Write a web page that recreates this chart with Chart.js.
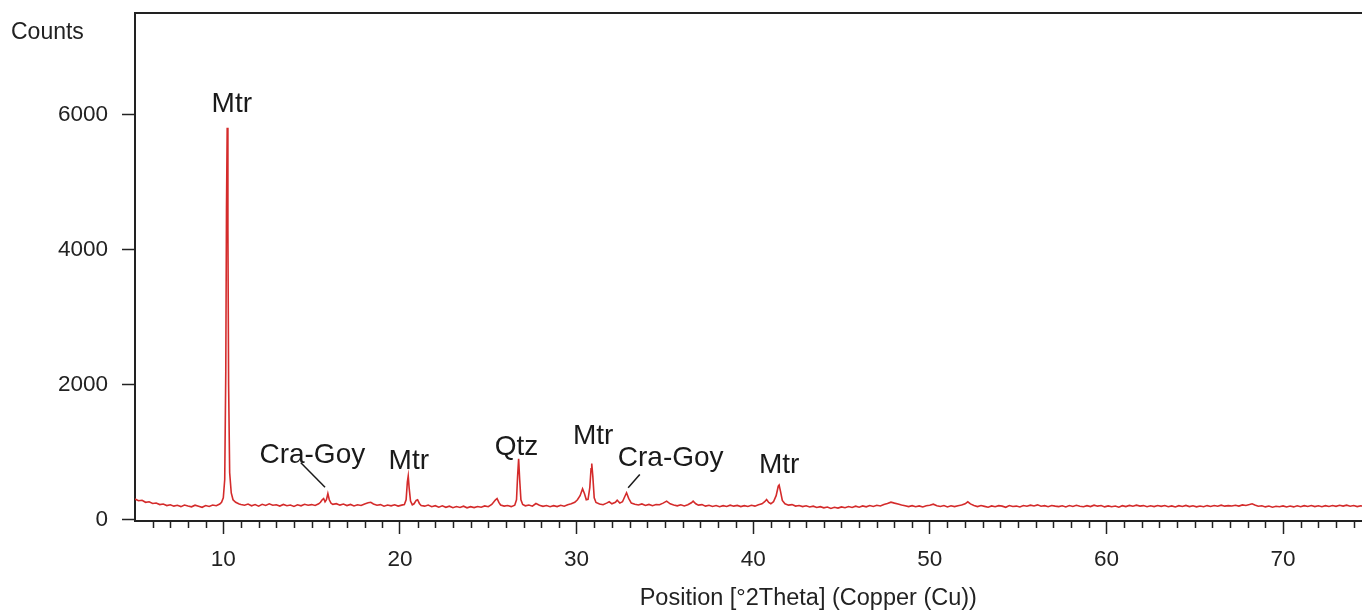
<!DOCTYPE html>
<html>
<head>
<meta charset="utf-8">
<script src="https://cdn.jsdelivr.net/npm/chart.js@4.4.1/dist/chart.umd.min.js"></script>
<style>
  html, body { margin: 0; padding: 0; background: #ffffff; }
  canvas { display: block; }
</style>
</head>
<body>
<canvas id="c" width="1362" height="610"></canvas>
<script>
// ---- Data ----
const twoTheta = [
  5.0,5.2,5.4,5.6,5.8,6.0,6.2,6.4,6.6,6.8,7.0,7.2,7.4,7.6,7.8,8.0,8.2,8.4,8.6,8.8,9.0,9.2,9.4,9.6,9.8,
  9.9,10.0,10.08,10.14,10.18,10.22,10.26,10.3,10.36,10.45,10.55,10.7,10.9,
  11.0,11.2,11.4,11.6,11.8,12.0,12.2,12.4,12.6,12.8,13.0,13.2,13.4,13.6,13.8,14.0,14.2,14.4,14.6,14.8,15.0,15.2,15.4,
  15.5,15.6,15.68,15.76,15.84,15.92,16.0,16.1,
  16.2,16.4,16.6,16.8,17.0,17.2,17.4,17.6,17.8,18.0,18.2,18.35,18.5,18.7,18.9,19.1,19.3,19.5,19.7,19.9,20.1,
  20.25,20.35,20.42,20.47,20.52,20.6,20.7,20.8,20.92,21.0,21.1,
  21.2,21.4,21.6,21.8,22.0,22.2,22.4,22.6,22.8,23.0,23.2,23.4,23.6,23.8,24.0,24.2,24.4,24.6,24.8,25.0,25.2,
  25.4,25.5,25.6,25.7,25.9,26.1,26.3,26.5,26.6,26.66,26.72,26.78,26.85,26.95,
  27.1,27.3,27.5,27.7,27.9,28.1,28.3,28.5,28.7,28.9,29.1,29.3,29.5,29.7,29.9,
  30.05,30.2,30.34,30.45,30.55,30.65,30.75,30.82,30.86,30.92,31.0,31.1,31.3,31.5,31.7,31.85,32.0,32.2,32.3,32.45,32.6,32.72,32.83,32.95,33.1,
  33.3,33.5,33.7,33.9,34.1,34.3,34.5,34.7,34.9,35.1,35.3,35.5,35.7,35.9,36.1,36.3,36.5,36.6,36.75,36.9,
  37.1,37.3,37.5,37.7,37.9,38.1,38.3,38.5,38.7,38.9,39.1,39.3,39.5,39.7,39.9,40.1,40.3,40.5,
  40.65,40.76,40.88,41.0,41.15,41.3,41.42,41.47,41.55,41.65,41.8,
  42.0,42.2,42.4,42.6,42.8,43.0,43.2,43.4,43.6,43.8,44.0,44.2,44.4,44.6,44.8,45.0,45.2,45.4,45.6,45.8,46.0,46.2,46.4,46.6,46.8,47.0,47.2,47.4,
  47.6,47.8,48.0,48.2,48.4,48.6,48.8,49.0,49.2,49.4,49.6,49.8,50.0,50.2,50.4,50.6,50.8,51.0,51.2,51.4,51.6,51.8,
  52.0,52.15,52.3,
  52.5,52.7,52.9,53.1,53.3,53.5,53.7,53.9,54.1,54.3,
  54.5,54.7,54.9,55.1,55.3,55.5,55.7,55.9,56.1,56.3,
  56.5,56.7,56.9,57.1,57.3,57.5,57.7,57.9,58.1,58.3,
  58.5,58.7,58.9,59.1,59.3,59.5,59.7,59.9,60.1,60.3,
  60.5,60.7,60.9,61.1,61.3,61.5,61.7,61.9,62.1,62.3,
  62.5,62.7,62.9,63.1,63.3,63.5,63.7,63.9,64.1,64.3,
  64.5,64.7,64.9,65.1,65.3,65.5,65.7,65.9,66.1,66.3,
  66.5,66.7,66.9,67.1,67.3,67.5,67.7,67.9,68.1,
  68.25,68.4,
  68.6,68.8,69.0,69.2,69.4,69.6,69.8,70.0,70.2,70.4,70.6,70.8,71.0,71.2,71.4,71.6,71.8,72.0,72.2,72.4,
  72.6,72.8,73.0,73.2,73.4,73.6,73.8,74.0,74.2,74.4,74.6
];
const counts = [
  310,285,292,262,270,245,252,228,236,214,226,205,218,198,222,207,195,219,203,188,214,200,221,212,236,
  262,330,600,2200,4600,5810,4300,2000,700,400,300,262,238,
  230,218,236,210,228,205,232,215,240,218,226,206,230,212,222,200,225,210,232,218,228,215,240,
  262,300,318,270,300,392,300,248,
  232,242,220,236,214,230,208,226,215,238,255,262,238,218,228,205,222,210,225,206,220,
  230,300,560,650,480,280,225,240,290,300,245,
  215,205,222,196,212,190,210,188,205,182,200,186,204,180,198,184,200,190,208,196,230,
  295,318,260,222,206,214,198,220,300,640,906,600,300,230,
  210,222,205,244,220,202,215,196,212,198,218,204,226,240,262,
  300,360,462,390,300,305,480,760,837,650,330,260,236,226,250,270,240,262,293,250,270,340,403,320,250,
  232,222,238,215,230,212,228,225,250,279,240,222,210,226,208,225,255,279,240,220,
  228,205,218,200,214,196,212,200,220,205,216,198,212,200,218,205,226,240,
  270,304,260,240,270,360,500,516,420,290,240,
  220,228,206,215,198,210,192,205,185,198,180,192,170,188,176,194,182,200,186,205,190,208,195,214,200,218,208,230,
  245,264,250,238,222,210,198,212,196,208,192,210,218,234,212,200,214,194,210,198,212,222,
  240,270,238,
  214,198,215,202,190,208,196,212,205,188,
  214,200,206,192,215,203,220,207,224,204,
  212,196,215,205,198,210,193,214,200,217,
  203,196,212,199,220,205,214,194,209,197,
  206,190,212,198,216,203,219,206,213,197,
  210,199,215,202,214,196,209,193,212,201,
  216,199,211,195,208,197,213,200,215,203,
  219,205,212,207,218,206,223,214,228,
  240,222,
  204,210,194,206,190,204,196,208,192,206,194,210,196,212,200,214,198,210,196,212,
  200,214,202,218,206,220,204,214,198,210,204
];

// Axis ticks
const xTickValues = [10, 20, 30, 40, 50, 60, 70];
const xTickLabels = ['10', '20', '30', '40', '50', '60', '70'];
const yTickValues = [0, 2000, 4000, 6000];
const yTickLabels = ['0', '2000', '4000', '6000'];

// Phase labels (text centre in °2θ, text baseline in counts)
const peakNames  = ['Mtr', 'Cra-Goy', 'Mtr', 'Qtz', 'Mtr', 'Cra-Goy', 'Mtr'];
const peakLabelX = [10.48, 15.04, 20.50, 26.60, 30.94, 35.33, 41.47];
const peakLabelY = [6047, 837, 758, 956, 1119, 797, 699];
// Leader lines for Cra-Goy labels
const leaderX1 = [14.39, 33.58];
const leaderY1 = [847, 674];
const leaderX2 = [15.76, 32.92];
const leaderY2 = [486, 477];

const yAxisLabel = 'Counts';
const xAxisLabel = 'Position [°2Theta] (Copper (Cu))';
const xAxisLabelAt = 43.12;

const FONT = '"Liberation Sans", Arial, Helvetica, sans-serif';
const INK = '#222222';

const decor = {
  id: 'decor',
  afterDraw(chart) {
    const ctx = chart.ctx;
    const a = chart.chartArea;
    const xs = chart.scales.x, ys = chart.scales.y;
    ctx.save();
    // top frame line
    ctx.strokeStyle = INK;
    ctx.lineWidth = 2;
    ctx.beginPath();
    ctx.moveTo(a.left - 1, a.top);
    ctx.lineTo(a.right, a.top);
    ctx.stroke();
    // minor ticks each degree
    ctx.lineWidth = 1.5;
    ctx.beginPath();
    for (let v = Math.ceil(xs.min); v <= xs.max; v++) {
      if (xTickValues.indexOf(v) >= 0 || v === xs.min) continue;
      const px = Math.round(xs.getPixelForValue(v)) + 0.5;
      ctx.moveTo(px, a.bottom);
      ctx.lineTo(px, a.bottom + 7);
    }
    ctx.stroke();
    // leader lines
    ctx.lineWidth = 1.5;
    ctx.strokeStyle = '#1a1a1a';
    for (let i = 0; i < leaderX1.length; i++) {
      ctx.beginPath();
      ctx.moveTo(xs.getPixelForValue(leaderX1[i]), ys.getPixelForValue(leaderY1[i]));
      ctx.lineTo(xs.getPixelForValue(leaderX2[i]), ys.getPixelForValue(leaderY2[i]));
      ctx.stroke();
    }
    // peak labels
    ctx.fillStyle = '#1a1a1a';
    ctx.font = '28px ' + FONT;
    ctx.textAlign = 'center';
    ctx.textBaseline = 'alphabetic';
    for (let i = 0; i < peakNames.length; i++) {
      ctx.fillText(peakNames[i], xs.getPixelForValue(peakLabelX[i]), ys.getPixelForValue(peakLabelY[i]));
    }
    // axis titles
    ctx.fillStyle = INK;
    ctx.font = '23px ' + FONT;
    ctx.textAlign = 'left';
    ctx.fillText(yAxisLabel, 11, 39);
    ctx.font = '23.5px ' + FONT;
    ctx.textAlign = 'center';
    ctx.fillText(xAxisLabel, xs.getPixelForValue(xAxisLabelAt), 605);
    ctx.restore();
  }
};

const tickFont = { family: FONT, size: 22.5 };

new Chart(document.getElementById('c'), {
  type: 'line',
  data: {
    datasets: [{
      data: twoTheta.map((x, i) => ({ x: x, y: counts[i] })),
      borderColor: '#d42b2b',
      borderWidth: 1.6,
      pointRadius: 0,
      tension: 0,
      fill: false
    }]
  },
  options: {
    responsive: false,
    animation: false,
    events: [],
    layout: { padding: { top: 13, right: 0, bottom: 0, left: 0 } },
    plugins: { legend: { display: false }, tooltip: { enabled: false } },
    scales: {
      x: {
        type: 'linear',
        min: 5,
        max: 74.47,
        afterBuildTicks(scale) { scale.ticks = xTickValues.map(v => ({ value: v })); },
        ticks: { font: tickFont, color: INK, padding: 12, maxRotation: 0, autoSkip: false,
                 callback: (v, i) => xTickLabels[i] },
        grid: { display: true, drawOnChartArea: false, drawTicks: true, tickLength: 13, tickWidth: 1.5, tickColor: INK },
        border: { display: true, color: INK, width: 2 },
        afterFit(scale) { scale.height = 89; scale.paddingLeft = 0; scale.paddingRight = 0; }
      },
      y: {
        type: 'linear',
        min: -15,
        max: 7510,
        afterBuildTicks(scale) { scale.ticks = yTickValues.map(v => ({ value: v })); },
        ticks: { font: tickFont, color: INK, padding: 14, autoSkip: false,
                 callback: (v, i) => yTickLabels[i] },
        grid: { display: true, drawOnChartArea: false, drawTicks: true, tickLength: 13, tickWidth: 1.5, tickColor: INK },
        border: { display: true, color: INK, width: 2 },
        afterFit(scale) { scale.width = 135; scale.paddingTop = 0; scale.paddingBottom = 0; }
      }
    }
  },
  plugins: [decor]
});
</script>
</body>
</html>
